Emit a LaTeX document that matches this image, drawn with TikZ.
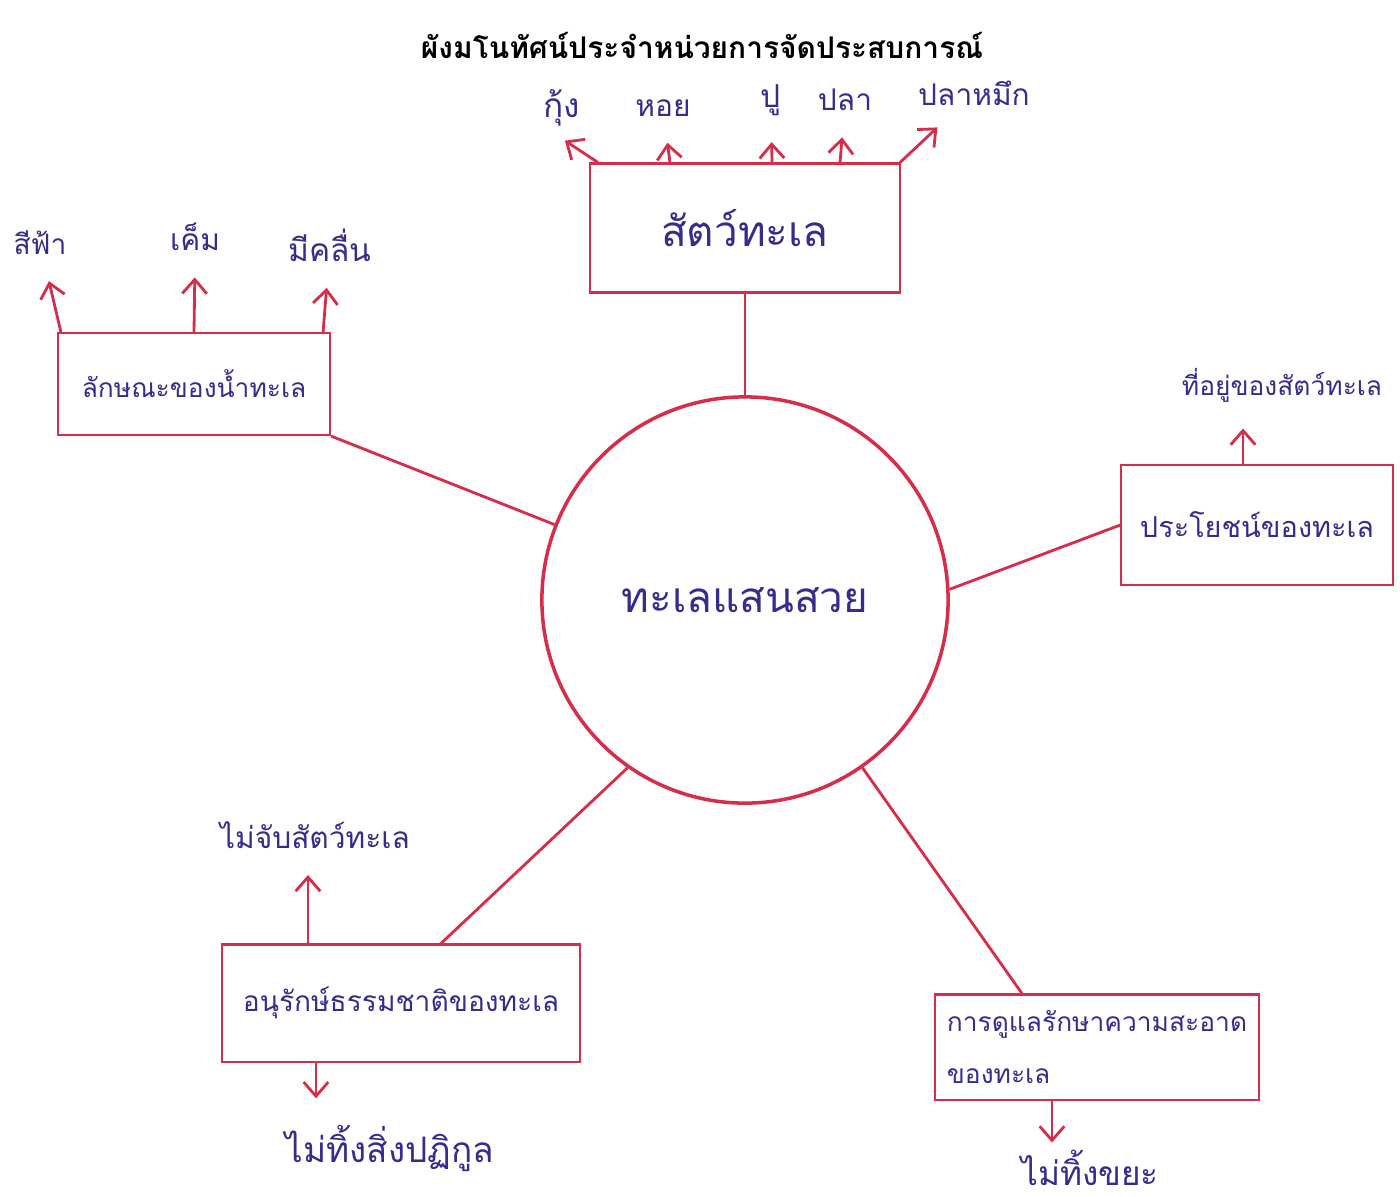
\documentclass[tikz,border=0pt]{standalone}
\usepackage{fontspec}
\newfontfamily\thaifont[Script=Thai]{Loma}
\usetikzlibrary{arrows.meta}
\definecolor{penred}{RGB}{214,45,75}
\definecolor{penblue}{RGB}{52,45,140}

\begin{document}
\begin{tikzpicture}[x=0.01cm,y=-0.01cm,
  every node/.style={font=\thaifont\fontsize{12}{16}\selectfont, text=penblue},
  small/.style={font=\thaifont\fontsize{#1}{15}\selectfont},
  topic/.style={draw=penred, line width=0.6pt, align=left},
  link/.style={draw=penred, line width=0.8pt},
  arr/.style={link, -{Straight Barb[length=4pt,width=7pt]}, shorten >=4pt}]
\useasboundingbox[fill=white] (0,0) rectangle (1400,1196);

\node[text=black, font=\thaifont\bfseries\fontsize{8.5}{10}\selectfont] (title) at (702,45) {ผังมโนทัศน์ประจำหน่วยการจัดประสบการณ์};

% center
\node[circle, draw=penred, line width=1pt, minimum size=4.06cm] (sea) at (745,600) {ทะเลแสนสวย};

% topics
\node[topic, minimum width=3.1cm, minimum height=1.29cm] (animals) at (745,228) {สัตว์ทะเล};
\node[topic, small=7.5, minimum width=2.72cm, minimum height=1.02cm] (water) at (194,384) {ลักษณะของน้ำทะเล};
\node[topic, small=8.2, minimum width=2.71cm, minimum height=1.2cm] (benefit) at (1257,525) {ประโยชน์ของทะเล};
\node[topic, small=8, minimum width=3.58cm, minimum height=1.17cm] (conserve) at (401,1003) {อนุรักษ์ธรรมชาติของทะเล};
\node[topic, small=7.5, minimum width=3.1cm, minimum height=1.05cm] (clean) at (1097,1047) {การดูแลรักษาความสะอาด\\ของทะเล};

% leaves
\node[small=9.5] (shrimp) at (562,108) {กุ้ง};
\node[small=8.5] (shell) at (663,108) {หอย};
\node[small=9] (crab) at (771,100) {ปู};
\node[small=8.5] (fish) at (845,100) {ปลา};
\node[small=8.5] (squid) at (974,93) {ปลาหมึก};
\node[small=8] (blue) at (40,243) {สีฟ้า};
\node[small=8.5] (salty) at (195,237) {เค็ม};
\node[small=9] (waves) at (330,245) {มีคลื่น};
\node[small=7.5] (home) at (1282,385) {ที่อยู่ของสัตว์ทะเล};
\node[small=8.5] (nocatch) at (315,835) {ไม่จับสัตว์ทะเล};
\node[small=10] (nodump) at (390,1148) {ไม่ทิ้งสิ่งปฏิกูล};
\node[small=9.5, inner sep=1pt] (nolitter) at (1090,1168) {ไม่ทิ้งขยะ};

% spokes
\draw[link] (animals) -- (sea);
\draw[link] (water.south east) -- (sea);
\draw[link] (sea.3) -- (benefit.west);
\draw[link] (sea.235) -- ([xshift=0.4cm]conserve.north);
\draw[link] (sea.-55) -- ([xshift=-0.75cm]clean.north);

% arrows
\draw[arr, shorten >=1pt] ([xshift=-1.47cm]animals.north) -- (shrimp.south);
\draw[arr] ([xshift=-0.75cm]animals.north) -- (shell);
\draw[arr] ([xshift=0.27cm]animals.north) -- (crab);
\draw[arr] ([xshift=0.95cm]animals.north) -- (fish);
\draw[arr] ([xshift=1.55cm]animals.north) -- (squid);
\draw[arr] ([xshift=0.04cm]water.north west) -- (blue);
\draw[arr] (water.north) -- (salty.south);
\draw[arr] ([xshift=-0.08cm]water.north east) -- (waves);
\draw[arr] ([xshift=-0.14cm]benefit.north) -- ([xshift=-0.14cm]benefit.north |- home.south);
\draw[arr] ([xshift=-0.93cm]conserve.north) -- ([xshift=-0.93cm]conserve.north |- nocatch.south);
\draw[arr] ([xshift=-0.85cm]conserve.south) -- ([xshift=-0.85cm]conserve.south |- nodump.north);
\draw[arr, shorten >=1pt] ([xshift=-0.45cm]clean.south) -- ([xshift=-0.45cm]clean.south |- nolitter.north);
\end{tikzpicture}
\end{document}
